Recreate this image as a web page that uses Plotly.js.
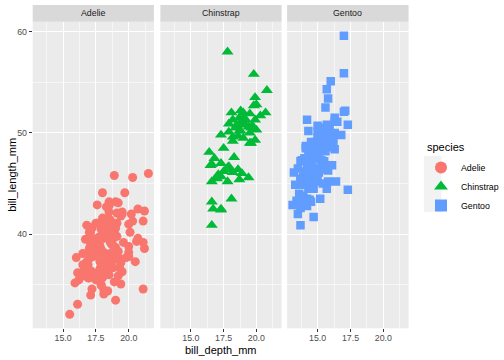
<!DOCTYPE html>
<html><head><meta charset="utf-8">
<script src="https://cdn.plot.ly/plotly-3.0.1.min.js"></script>
<style>html,body{margin:0;padding:0;background:#fff}#chart{width:504px;height:360px}</style>
</head><body><div id="chart"></div>
<script>
var species = ["Adelie", "Chinstrap", "Gentoo"];
var colors = ["#F8766D", "#00BA38", "#619CFF"];
var xTicks = [15, 17.5, 20];
var xTickText = ["15.0", "17.5", "20.0"];
var yTicks = [40, 50, 60];

var adelieDepth = [18.7,17.4,18.0,19.3,20.6,17.8,19.6,18.1,20.2,17.1,17.3,17.6,21.2,21.1,17.8,19.0,20.7,18.4,21.5,
18.3,18.7,19.2,18.1,17.2,18.9,18.6,17.9,18.6,18.9,
16.7,18.1,17.8,18.9,17.0,21.1,20.0,18.5,19.3,19.1,18.0,18.4,18.5,19.7,16.9,18.8,19.0,18.9,17.9,21.2,
17.7,18.9,17.9,19.5,18.1,18.6,17.5,18.8,16.6,19.1,16.9,21.1,17.0,18.2,17.1,18.0,16.2,19.1,
16.6,19.4,19.0,18.4,17.2,18.9,17.5,18.5,16.8,19.4,16.1,19.1,17.2,17.6,18.8,19.4,
17.8,20.3,19.5,18.6,19.2,18.8,18.0,18.1,17.1,18.1,17.3,18.9,18.6,18.5,16.1,18.5,
17.9,20.0,16.0,20.0,18.6,18.9,17.2,20.0,17.0,19.0,16.5,20.3,17.7,19.5,20.7,18.3,
17.0,20.5,17.0,18.6,17.2,19.8,17.0,18.5,15.9,19.0,17.6,18.3,17.1,18.0,17.9,19.2,
18.5,18.5,17.6,17.5,17.5,20.1,16.5,17.9,17.1,17.2,15.5,17.0,16.8,18.7,18.6,18.4,17.8,18.1,17.1,18.5];
var adelieLength = [39.1,39.5,40.3,36.7,39.3,38.9,39.2,34.1,42.0,37.8,37.8,41.1,38.6,34.6,36.6,38.7,42.5,34.4,46.0,
37.8,37.7,35.9,38.2,38.8,35.3,40.6,40.5,37.9,40.5,
39.5,37.2,39.5,40.9,36.4,39.2,38.8,42.2,37.6,39.8,36.5,40.8,36.0,44.1,37.0,39.6,41.1,37.5,36.0,42.3,
39.6,40.1,35.0,42.0,34.5,41.4,39.0,40.6,36.5,37.6,35.7,41.3,37.6,41.1,36.4,41.6,35.5,41.1,
35.9,41.8,33.5,39.7,39.6,45.8,35.5,42.8,40.9,37.2,36.2,42.1,34.6,42.9,36.7,35.1,
37.3,41.3,36.3,36.9,38.3,38.9,35.7,41.1,34.0,39.6,36.2,40.8,38.1,40.3,33.1,43.2,
35.0,41.0,37.7,37.8,37.9,39.7,38.6,38.2,38.1,43.2,38.1,45.6,39.7,42.2,39.6,42.7,
38.6,37.3,35.7,41.1,36.2,37.7,40.2,41.4,35.2,40.6,38.8,41.5,39.0,44.1,38.5,43.1,
36.8,37.5,38.1,41.1,35.6,40.2,37.0,39.7,40.2,40.6,32.1,40.7,37.3,39.0,39.2,36.6,36.0,37.8,36.0,41.5];

var chinstrapDepth = [17.9,19.5,19.2,18.7,19.8,17.8,18.2,18.2,18.9,19.9,17.8,20.3,17.3,18.1,17.1,19.6,20.0,17.8,18.6,18.2,
17.3,17.5,16.6,19.4,17.9,19.0,18.4,19.0,17.8,20.0,16.6,20.8,16.7,18.8,18.6,16.8,18.3,20.7,16.6,19.9,
19.5,17.5,19.1,17.0,17.9,18.5,17.9,19.6,18.7,17.3,16.4,19.0,17.3,19.7,17.3,18.8,16.6,19.9,18.8,19.4,
19.5,16.5,17.0,19.8,18.1,18.2,19.0,18.7];
var chinstrapLength = [46.5,50.0,51.3,45.4,52.7,45.2,46.1,51.3,46.0,51.3,46.6,51.7,47.0,52.0,45.9,50.5,50.3,58.0,46.4,49.2,
42.4,48.5,43.2,50.6,46.7,52.0,50.5,49.5,46.4,52.8,40.9,54.2,42.5,51.0,49.7,47.5,47.6,52.0,46.9,53.5,
49.0,46.2,50.9,45.5,50.9,50.8,50.1,49.0,51.5,49.8,48.1,51.4,45.7,50.7,42.5,52.2,45.2,49.3,50.2,45.6,
51.9,46.8,45.7,55.8,43.5,49.6,50.8,50.2];

var gentooDepth = [13.2,16.3,14.1,15.2,14.5,13.5,14.6,15.3,13.4,15.4,13.7,16.1,13.7,14.6,14.6,15.7,13.5,15.2,14.5,15.1,
14.3,14.5,14.5,15.8,13.1,15.1,14.3,15.0,14.3,15.3,15.3,14.2,14.5,17.0,14.8,16.3,13.7,17.3,13.6,15.7,
13.7,16.0,13.7,15.0,15.9,13.9,13.9,15.9,13.3,15.8,14.2,14.1,14.4,15.0,14.4,15.4,13.9,15.0,14.5,15.3,
13.8,14.9,13.9,15.7,14.2,16.8,14.4,16.2,14.2,15.0,15.0,15.6,15.6,14.8,15.0,16.0,14.2,16.3,13.8,16.4,
14.5,15.6,14.6,15.9,13.8,17.3,14.4,14.2,14.0,17.0,15.0,17.1,14.5,16.1,14.7,15.7,15.8,14.6,14.4,16.5,
15.0,17.0,15.5,15.0,13.8,16.1,14.7,15.8,14.0,15.1,15.2,15.9,15.2,16.3,14.1,16.0,15.7,16.2,13.7,
14.3,15.7,14.8,16.1];
var gentooLength = [46.1,50.0,48.7,50.0,47.6,46.5,45.4,46.7,43.3,46.8,40.9,49.0,45.5,48.4,45.8,49.3,42.0,49.2,46.2,48.7,
50.2,45.1,46.5,46.3,42.9,46.1,44.5,47.8,48.2,50.0,47.3,42.8,45.1,59.6,49.1,48.4,42.6,44.4,44.0,48.7,
42.7,49.6,45.3,49.6,50.5,43.6,45.5,50.5,44.9,45.2,46.6,48.5,45.1,50.1,46.5,45.0,43.8,45.5,43.2,50.4,
45.3,46.2,45.7,54.3,45.8,49.8,46.2,49.5,43.5,50.7,47.7,46.4,48.2,46.5,46.4,48.6,47.5,51.1,45.2,45.2,
49.1,52.5,47.4,50.0,44.9,50.8,43.4,51.3,47.5,52.1,47.5,52.2,45.5,49.5,44.5,50.8,49.4,46.9,48.4,51.1,
48.5,55.9,47.2,49.1,47.3,46.8,41.7,53.4,43.3,48.1,50.5,49.8,43.5,51.5,46.2,55.1,44.5,48.8,47.2,
46.8,50.4,45.2,49.9];

var W = 504, H = 360;
function px(x){return x/W;}
function py(y){return 1 - y/H;}
var panels = [[33.3,156.7],[163.3,286.7],[292.3,416.0]];
var pTop = 21.7, pBot = 328.3;
var xRange = [12.68, 21.92], yRange = [30.725, 60.975];

var depths = [adelieDepth, chinstrapDepth, gentooDepth];
var lengths = [adelieLength, chinstrapLength, gentooLength];
var symbols = ["circle", "triangle-up", "square"];
var sizes = [9, 10.5, 8.5];
var axNames = ["x", "x2", "x3"];

var traces = species.map(function(s, i){
  return {type:"scatter", mode:"markers", name:s, x:depths[i], y:lengths[i],
    xaxis:axNames[i], yaxis:"y",
    marker:{color:colors[i], symbol:symbols[i], size:sizes[i], line:{width:0}}};
});

var tickFont = {family:"Liberation Sans, Arial, sans-serif", size:8.8, color:"#4D4D4D"};
function xAxis(i){
  return {domain:[px(panels[i][0]), px(panels[i][1])], anchor:"y", range:xRange,
    tickvals:xTicks, ticktext:xTickText, ticks:"outside", ticklen:3, tickcolor:"#333333", tickwidth:1,
    ticklabelstandoff:-2,
    tickfont:tickFont, showgrid:true, gridcolor:"#FFFFFF", gridwidth:1.07, zeroline:false, showline:false,
    minor:{tickvals:[13.75,16.25,18.75,21.25], showgrid:true, gridcolor:"#FFFFFF", gridwidth:0.53, ticks:""},
    fixedrange:true};
}

var shapes = [], annotations = [];
panels.forEach(function(p, i){
  shapes.push({type:"rect", xref:"paper", yref:"paper", x0:px(p[0]), x1:px(p[1]), y0:py(pTop), y1:py(5),
    fillcolor:"#D9D9D9", line:{width:0}, layer:"below"});
  annotations.push({xref:"paper", yref:"paper", x:px((p[0]+p[1])/2), y:py(13.3), text:species[i],
    showarrow:false, xanchor:"center", yanchor:"middle",
    font:{family:"Liberation Sans, Arial, sans-serif", size:8.8, color:"#1A1A1A"}});
});
shapes.push({type:"rect", xref:"paper", yref:"paper", x0:px(431.5), x1:px(449.5), y0:py(212), y1:py(156),
  fillcolor:"#F2F2F2", line:{width:0}, layer:"below"});
annotations.push({xref:"paper", yref:"paper", x:px(224.7), y:py(350), text:"bill_depth_mm", showarrow:false,
  xanchor:"center", yanchor:"middle", font:{family:"Liberation Sans, Arial, sans-serif", size:11, color:"#000000"}});
annotations.push({xref:"paper", yref:"paper", x:px(12), y:py(175), text:"bill_length_mm", showarrow:false,
  textangle:-90, xanchor:"center", yanchor:"middle", font:{family:"Liberation Sans, Arial, sans-serif", size:11, color:"#000000"}});
annotations.push({xref:"paper", yref:"paper", x:px(432.7), y:py(147), text:"species", showarrow:false,
  xanchor:"left", yanchor:"middle", font:{family:"Liberation Sans, Arial, sans-serif", size:11, color:"#000000"}});

var layout = {
  width:W, height:H, margin:{l:0, r:0, t:0, b:0},
  paper_bgcolor:"#FFFFFF", plot_bgcolor:"#EBEBEB",
  font:{family:"Liberation Sans, Arial, sans-serif"},
  xaxis:xAxis(0), xaxis2:xAxis(1), xaxis3:xAxis(2),
  yaxis:{domain:[py(pBot), py(pTop)], anchor:"x", range:yRange, tickvals:yTicks,
    ticks:"outside", ticklen:3, tickcolor:"#333333", tickwidth:1, tickfont:tickFont,
    showgrid:true, gridcolor:"#FFFFFF", gridwidth:1.07, zeroline:false, showline:false,
    minor:{tickvals:[35,45,55], showgrid:true, gridcolor:"#FFFFFF", gridwidth:0.53, ticks:""},
    fixedrange:true},
  showlegend:true,
  legend:{x:px(429), y:py(153), xanchor:"left", yanchor:"top", bgcolor:"rgba(0,0,0,0)",
    font:{size:8.8, color:"#000000"}, tracegroupgap:0, itemsizing:"constant"},
  shapes:shapes, annotations:annotations
};
Plotly.newPlot("chart", traces, layout, {staticPlot:true, displayModeBar:false});
</script></body></html>
